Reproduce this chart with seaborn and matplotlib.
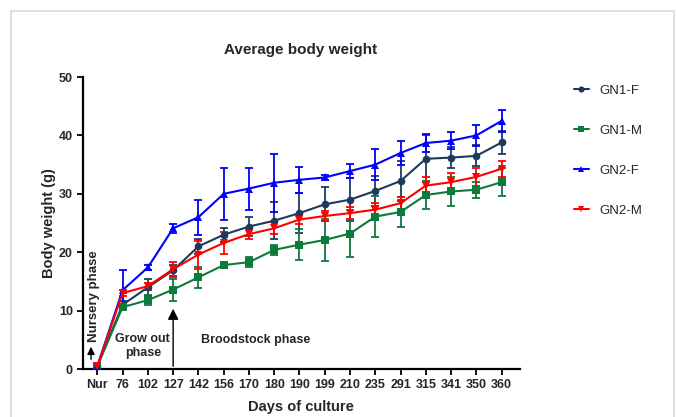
import matplotlib
matplotlib.use("Agg")
import matplotlib.pyplot as plt
import seaborn as sns
import pandas as pd
import numpy as np
from matplotlib.patches import Rectangle

days = ["Nur", "76", "102", "127", "142", "156", "170", "180", "190", "199",
        "210", "235", "291", "315", "341", "350", "360"]

gn1_f = [0.5, 11.0, 14.0, 16.9, 21.0, 23.0, 24.4, 25.4, 26.7, 28.2, 29.0, 30.5, 32.2, 36.0, 36.2, 36.5, 38.8]
gn1_f_err = [0.3, 0.6, 1.5, 1.0, 1.3, 1.2, 1.7, 3.2, 3.4, 2.9, 3.7, 2.5, 3.5, 4.0, 1.8, 1.8, 2.0]
gn1_m = [0.5, 10.6, 11.8, 13.6, 15.7, 17.8, 18.3, 20.4, 21.3, 22.1, 23.2, 26.1, 26.9, 29.8, 30.4, 30.7, 32.0]
gn1_m_err = [0.3, 0.5, 0.8, 1.9, 1.8, 0.3, 0.8, 0.9, 2.7, 3.6, 4.1, 3.5, 2.5, 2.4, 2.4, 1.4, 2.4]
gn2_f = [0.5, 13.5, 17.4, 24.1, 26.0, 30.0, 30.9, 31.9, 32.4, 32.8, 33.9, 35.0, 37.0, 38.7, 39.1, 40.0, 42.5]
gn2_f_err = [0.3, 3.4, 0.4, 0.8, 3.0, 4.5, 3.6, 5.0, 2.2, 0.5, 1.2, 2.6, 2.1, 1.5, 1.5, 1.8, 1.9]
gn2_m = [0.5, 13.0, 14.2, 17.1, 19.6, 21.6, 23.1, 24.1, 25.6, 26.2, 26.7, 27.3, 28.4, 31.4, 32.0, 32.9, 34.3]
gn2_m_err = [0.3, 0.5, 0.6, 1.3, 2.4, 1.9, 0.8, 1.0, 0.8, 0.9, 1.0, 1.2, 1.0, 1.4, 1.5, 1.6, 1.4]

groups = ["GN1-F", "GN1-M", "GN2-F", "GN2-M"]
colors = {"GN1-F": "#1c3a5e", "GN1-M": "#0b7a3b", "GN2-F": "#0000ff", "GN2-M": "#ff0000"}
markers = {"GN1-F": "o", "GN1-M": "s", "GN2-F": "^", "GN2-M": "v"}

vals = {"GN1-F": (gn1_f, gn1_f_err), "GN1-M": (gn1_m, gn1_m_err),
        "GN2-F": (gn2_f, gn2_f_err), "GN2-M": (gn2_m, gn2_m_err)}

rows = []
for g in groups:
    m, e = vals[g]
    for i, d in enumerate(days):
        rows.append({"Day": d, "pos": i, "Weight": m[i], "err": e[i], "Group": g})
df = pd.DataFrame(rows)

sns.set_style("ticks")
plt.rcParams["font.family"] = ["Liberation Sans", "DejaVu Sans"]

fig = plt.figure(figsize=(6.76, 4.17), dpi=100)
ax = fig.add_axes([0.1223, 0.115, 0.769 - 0.1223, 0.7003])

for g in groups:
    sub = df[df["Group"] == g]
    ax.errorbar(sub["pos"], sub["Weight"], yerr=sub["err"], fmt="none",
                ecolor=colors[g], elinewidth=1.3, capsize=3, capthick=1.3, zorder=2)

sns.lineplot(data=df, x="pos", y="Weight", hue="Group", style="Group",
             palette=colors, markers=markers, dashes=False, hue_order=groups,
             linewidth=1.5, markersize=5.5, markeredgewidth=0, ax=ax, zorder=3,
             legend=True)

ax.set_xlim(-0.58, 16.72)
ax.set_ylim(0, 50)
ax.set_yticks([0, 10, 20, 30, 40, 50])
ax.set_xticks(range(len(days)))
ax.set_xticklabels(days)
for lab in ax.get_xticklabels() + ax.get_yticklabels():
    lab.set_fontweight("bold")
    lab.set_fontsize(9)
ax.tick_params(axis="both", width=1.3, length=4, pad=3, color="black")
for s in ["left", "bottom"]:
    ax.spines[s].set_linewidth(1.6)
    ax.spines[s].set_color("black")
for s in ["top", "right"]:
    ax.spines[s].set_visible(False)

ax.set_xlabel("Days of culture", fontsize=10.5, fontweight="bold", labelpad=7)
ax.set_ylabel("Body weight (g)", fontsize=10.5, fontweight="bold", labelpad=2)
fig.text(0.444, 0.88, "Average body weight", ha="center", va="center",
         fontsize=11, fontweight="bold")

# annotations
ax.annotate("", xy=(-0.25, 4.3), xytext=(-0.25, 1.2),
            arrowprops=dict(arrowstyle="-|>", color="black", lw=1.0, mutation_scale=11))
ax.text(-0.12, 4.6, "Nursery phase", rotation=90, ha="center", va="bottom",
        fontsize=9.5, fontweight="bold")
ax.annotate("", xy=(3, 10.8), xytext=(3, 0),
            arrowprops=dict(arrowstyle="-|>", color="black", lw=1.0, mutation_scale=16))
ax.text(1.8, 3.9, "Grow out\nphase", ha="center", va="center",
        fontsize=9, fontweight="bold", linespacing=1.2)
ax.text(6.25, 4.9, "Broodstock phase", ha="center", va="center",
        fontsize=9, fontweight="bold")

leg = ax.legend(loc="upper left", bbox_to_anchor=(1.096, 1.015), frameon=False,
                fontsize=9.5, labelspacing=2.1, handlelength=1.15, handletextpad=0.8,
                markerscale=0.8)

fig.patches.append(Rectangle((11 / 676, -0.1), (674 - 11) / 676, 1.1 - 11 / 417,
                             transform=fig.transFigure, fill=False,
                             edgecolor="#d9d9d9", linewidth=1.2))

fig.savefig("out.png", dpi=100, facecolor="white")
